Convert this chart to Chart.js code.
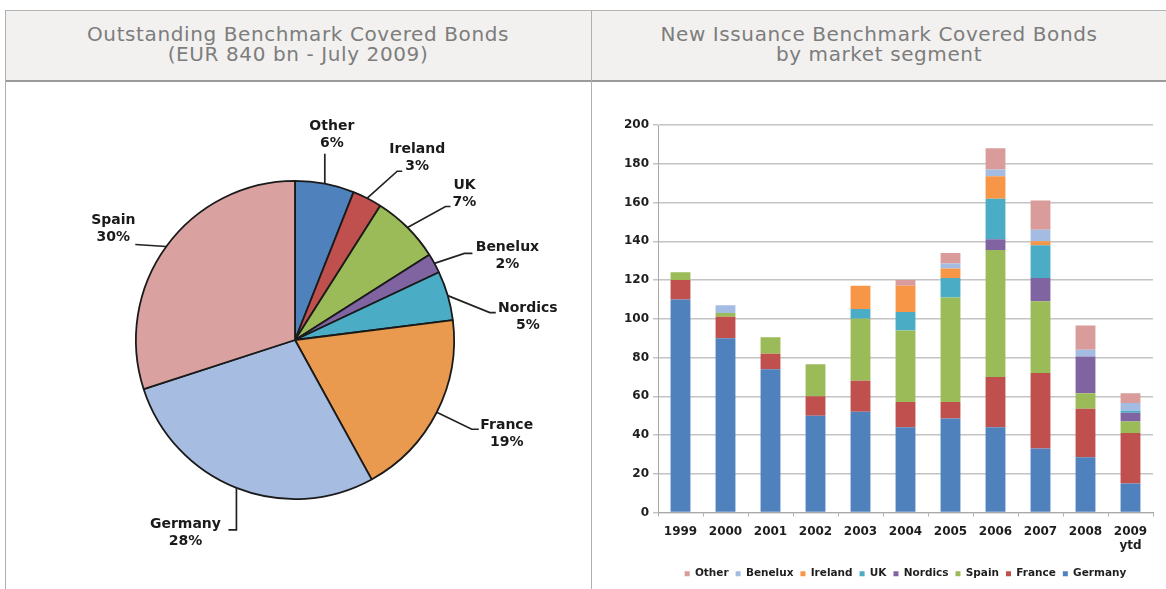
<!DOCTYPE html>
<html>
<head>
<meta charset="utf-8">
<script src="https://cdn.jsdelivr.net/npm/chart.js@4.4.1/dist/chart.umd.min.js"></script>
<style>
  html, body { margin: 0; padding: 0; background: #ffffff; }
  #wrap { position: relative; width: 1166px; height: 589px; overflow: hidden; background: #fff; }
  .hdr { position: absolute; left: 5px; top: 10px; width: 1161px; height: 69px; background: #F2F1EF;
         border-top: 1px solid #b4b4b4; border-bottom: 2px solid #9a9a9a; }
  .vline { position: absolute; width: 1px; background: #b0b0b0; }
  .title { position: absolute; top: 24px; text-align: center; font-family: "DejaVu Sans", Verdana, sans-serif;
           font-size: 20px; line-height: 20px; color: #7d7d7d; letter-spacing: 0.6px; white-space: nowrap; }
  canvas { position: absolute; }
</style>
</head>
<body>
<div id="wrap">
  <div class="hdr"></div>
  <div class="vline" style="left:5px; top:10px; height:579px;"></div>
  <div class="vline" style="left:591px; top:10px; height:579px;"></div>
  <div class="title" style="left:5px; width:586px;">Outstanding Benchmark Covered Bonds<br>(EUR 840 bn - July 2009)</div>
  <div class="title" style="left:592px; width:574px;">New Issuance Benchmark Covered Bonds<br>by market segment</div>
  <div style="position:absolute; left:6px; top:83px; width:585px; height:506px;">
    <canvas id="pie" width="585" height="506" style="left:0;top:0;width:585px;height:506px;"></canvas>
  </div>
  <div style="position:absolute; left:592px; top:83px; width:574px; height:506px;">
    <canvas id="bar" width="574" height="506" style="left:0;top:0;width:574px;height:506px;"></canvas>
  </div>
</div>
<script>
// ---------- Pie data ----------
const pieLabels = ['Other', 'Ireland', 'UK', 'Benelux', 'Nordics', 'France', 'Germany', 'Spain'];
const pieValues = [6, 3, 7, 2, 5, 19, 28, 30];
const pieColors = ['#4F81BD', '#C0504D', '#9BBB59', '#8064A2', '#4BACC6', '#EA9A4E', '#A6BCE0', '#D9A2A1'];

// ---------- Bar data ----------
const years = ['1999', '2000', '2001', '2002', '2003', '2004', '2005', '2006', '2007', '2008', ['2009', 'ytd']];
const germany = [110, 90, 74, 50, 52, 44, 48.5, 44, 33, 28.5, 15];
const france  = [10, 11, 8, 10, 16, 13, 8.5, 26, 39, 25, 26];
const spain   = [4, 2, 8.5, 16.5, 32, 37, 54, 65.5, 37, 8, 6];
const nordics = [0, 0, 0, 0, 0, 0, 0, 5.5, 12, 19, 4.5];
const uk      = [0, 0, 0, 0, 5, 9.5, 10, 21, 17, 0, 1];
const ireland = [0, 0, 0, 0, 12, 13.5, 5, 11.5, 2, 0, 0];
const benelux = [0, 4, 0, 0, 0, 0, 2.5, 3.5, 6, 3.5, 4];
const other   = [0, 0, 0, 0, 0, 3, 5.5, 11, 15, 12.5, 5];
const yTicks = [0, 20, 40, 60, 80, 100, 120, 140, 160, 180, 200];

const FONT = '"DejaVu Sans", Verdana, sans-serif';

// Leader-line / label placement (style: offsets from slice edge at mid angle)
const pieLabelStyle = {
  Other:   { path: [[0, -30]],            text: [7, -57] },
  Ireland: { path: [[30, -27], [35, -27]], text: [50, -49] },
  UK:      { path: [[38, -21], [43, -21]], text: [57, -42] },
  Benelux: { path: [[30, -10], [38, -10]], text: [73, -16] },
  Nordics: { path: [[42, 17], [48, 17]],   text: [80, 13] },
  France:  { path: [[35, 17], [42, 17]],   text: [70, 13] },
  Germany: { path: [[0, 42], [-8, 42]],    text: [-51, 36] },
  Spain:   { path: [[-31, -2]],            text: [-53, -26] }
};

const pieLabelPlugin = {
  id: 'pieLabels',
  afterDatasetsDraw(chart) {
    const ctx = chart.ctx;
    const meta = chart.getDatasetMeta(0);
    ctx.save();
    meta.data.forEach((arc, i) => {
      const p = arc.getProps(['x', 'y', 'startAngle', 'endAngle', 'outerRadius'], true);
      const mid = (p.startAngle + p.endAngle) / 2;
      const ax = p.x + Math.cos(mid) * p.outerRadius;
      const ay = p.y + Math.sin(mid) * p.outerRadius;
      const st = pieLabelStyle[pieLabels[i]];
      ctx.beginPath();
      ctx.moveTo(ax, ay);
      st.path.forEach(([dx, dy]) => ctx.lineTo(ax + dx, ay + dy));
      ctx.strokeStyle = '#222';
      ctx.lineWidth = 1.7;
      ctx.stroke();
      ctx.fillStyle = '#1a1a1a';
      ctx.font = 'bold 14px ' + FONT;
      ctx.textAlign = 'center';
      ctx.textBaseline = 'middle';
      ctx.fillText(pieLabels[i], ax + st.text[0], ay + st.text[1]);
      ctx.fillText(pieValues[i] + '%', ax + st.text[0], ay + st.text[1] + 17);
    });
    ctx.restore();
  }
};

new Chart(document.getElementById('pie'), {
  type: 'pie',
  data: {
    labels: pieLabels,
    datasets: [{
      data: pieValues,
      backgroundColor: pieColors,
      borderColor: '#1a1a1a',
      borderWidth: 1.8
    }]
  },
  options: {
    responsive: false,
    animation: false,
    events: [],
    layout: { padding: { left: 129, right: 136, top: 97, bottom: 89 } },
    plugins: { legend: { display: false }, tooltip: { enabled: false } }
  },
  plugins: [pieLabelPlugin]
});

// ---------- Bar chart ----------
const series = [
  { label: 'Germany', data: germany, color: '#4F81BD' },
  { label: 'France',  data: france,  color: '#C0504D' },
  { label: 'Spain',   data: spain,   color: '#9BBB59' },
  { label: 'Nordics', data: nordics, color: '#8064A2' },
  { label: 'UK',      data: uk,      color: '#4BACC6' },
  { label: 'Ireland', data: ireland, color: '#F79646' },
  { label: 'Benelux', data: benelux, color: '#A5BCE2' },
  { label: 'Other',   data: other,   color: '#D99C9B' }
];

new Chart(document.getElementById('bar'), {
  type: 'bar',
  data: {
    labels: years,
    datasets: series.map(s => ({
      label: s.label,
      data: s.data,
      backgroundColor: s.color,
      borderWidth: 0,
      barPercentage: 0.9,
      categoryPercentage: 0.49
    }))
  },
  options: {
    responsive: false,
    animation: false,
    events: [],
    layout: { padding: { left: 0, right: 13, top: 42, bottom: 0 } },
    scales: {
      x: {
        stacked: true,
        afterFit(scale) { scale.height = 49; },
        grid: { display: true, drawOnChartArea: false, offset: true, tickLength: 4, color: '#b0b0b0', lineWidth: 1 },
        border: { display: true, color: '#a8a8a8', width: 1 },
        ticks: { font: { family: FONT, size: 12, weight: 'bold' }, color: '#1e1e1e', padding: 8, maxRotation: 0, autoSkip: false }
      },
      y: {
        stacked: true,
        min: 0,
        max: 200,
        afterFit(scale) { scale.width = 66; },
        afterBuildTicks(scale) { scale.ticks = yTicks.map(v => ({ value: v })); },
        grid: { color: '#c4c4c4', lineWidth: 1.5, tickLength: 5, drawTicks: true },
        border: { display: true, color: '#a8a8a8', width: 1 },
        ticks: { font: { family: FONT, size: 12, weight: 'bold' }, color: '#1e1e1e', padding: 4 }
      }
    },
    plugins: {
      tooltip: { enabled: false },
      legend: {
        position: 'bottom',
        fullSize: false,
        reverse: true,
        labels: {
          usePointStyle: true,
          pointStyle: 'rect',
          boxWidth: 5,
          boxHeight: 5,
          padding: 7,
          color: '#1e1e1e',
          font: { family: FONT, size: 10.5, weight: 'bold' }
        }
      }
    }
  }
});
</script>
</body>
</html>
